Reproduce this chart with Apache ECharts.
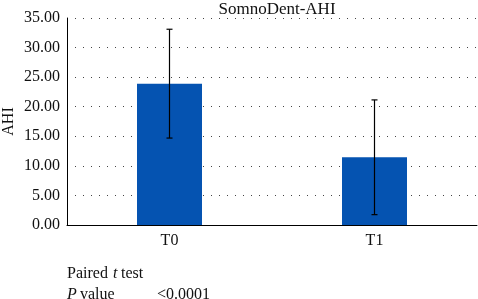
<!DOCTYPE html>
<html>
<head>
<meta charset="utf-8">
<script src="https://cdn.jsdelivr.net/npm/echarts@6/dist/echarts.min.js"></script>
<style>
  html, body { margin: 0; padding: 0; background: #fff; }
  #chart { width: 478px; height: 299px; }
</style>
</head>
<body>
<div id="chart"></div>
<script>
// SomnoDent - AHI, T0 vs T1 (mean ± SD)
const categories = ['T0', 'T1'];
const means = [23.9, 11.45];
const sds = [9.2, 9.7];
const yTicks = [0, 5, 10, 15, 20, 25, 30, 35];

const FONT = '"Liberation Serif", "DejaVu Serif", serif';

const chart = echarts.init(document.getElementById('chart'));

const errData = categories.map((c, i) => [i, means[i] - sds[i], means[i] + sds[i]]);

chart.setOption({
  animation: false,
  title: {
    text: 'SomnoDent-AHI',
    left: 272, top: -4, textAlign: 'center',
    textStyle: { fontFamily: FONT, fontSize: 17, fontWeight: 'normal', color: '#111' },
  },
  grid: { left: 67, right: 1, top: 18, bottom: 74, outerBoundsMode: 'none', containLabel: false },
  xAxis: {
    type: 'category',
    data: categories,
    axisLine: { lineStyle: { color: '#000', width: 1 } },
    axisTick: { show: false },
    axisLabel: { fontFamily: FONT, fontSize: 16, color: '#111', margin: 8 },
  },
  yAxis: {
    type: 'value',
    min: yTicks[0], max: yTicks[yTicks.length - 1], interval: 5,
    name: 'AHI',
    nameLocation: 'middle',
    nameGap: 50,
    nameMoveOverlap: false,
    nameTextStyle: { fontFamily: FONT, fontSize: 16, color: '#111' },
    axisLine: { show: true, lineStyle: { color: '#000', width: 1 } },
    axisTick: { show: false },
    axisLabel: { fontFamily: FONT, fontSize: 16, color: '#111', margin: 7, formatter: v => v.toFixed(2) },
    splitLine: { lineStyle: { color: '#444', width: 1, type: [1, 7] } },
  },
  series: [
    {
      type: 'bar',
      data: means,
      barWidth: 65,
      itemStyle: { color: '#0553b1' },
    },
    {
      type: 'custom',
      data: errData,
      z: 10,
      renderItem: (params, api) => {
        const x = api.value(0);
        const lo = api.coord([x, api.value(1)]);
        const hi = api.coord([x, api.value(2)]);
        const cap = 3;
        const style = { stroke: '#000', lineWidth: 1.2 };
        return {
          type: 'group',
          children: [
            { type: 'line', shape: { x1: hi[0], y1: hi[1], x2: lo[0], y2: lo[1] }, style },
            { type: 'line', shape: { x1: hi[0] - cap, y1: hi[1], x2: hi[0] + cap, y2: hi[1] }, style },
            { type: 'line', shape: { x1: lo[0] - cap, y1: lo[1], x2: lo[0] + cap, y2: lo[1] }, style },
          ],
        };
      },
    },
  ],
  graphic: [
    { type: 'text', left: 67, top: 266, style: { text: 'Paired ', font: '16px ' + FONT, fill: '#111' } },
    { type: 'text', left: 113, top: 266, style: { text: 't', font: 'italic 16px ' + FONT, fill: '#111' } },
    { type: 'text', left: 121, top: 266, style: { text: 'test', font: '16px ' + FONT, fill: '#111' } },
    { type: 'text', left: 67, top: 287, style: { text: 'P', font: 'italic 16px ' + FONT, fill: '#111' } },
    { type: 'text', left: 80, top: 287, style: { text: 'value', font: '16px ' + FONT, fill: '#111' } },
    { type: 'text', left: 157, top: 287, style: { text: '<0.0001', font: '16px ' + FONT, fill: '#111' } },
  ],
});
</script>
</body>
</html>
